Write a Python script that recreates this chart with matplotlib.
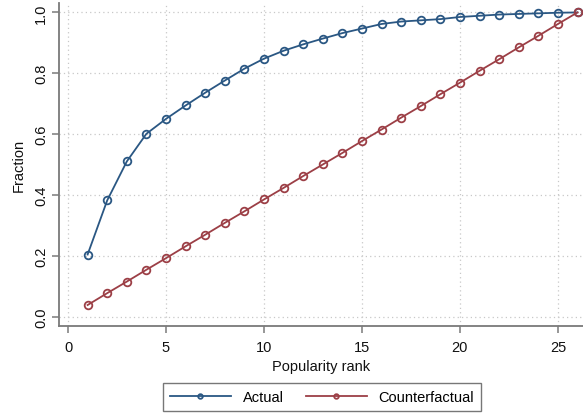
import matplotlib
matplotlib.use("Agg")
import matplotlib.pyplot as plt

rank = list(range(1, 27))
actual = [0.204, 0.382, 0.510, 0.601, 0.650, 0.694, 0.736, 0.776, 0.815, 0.848,
          0.874, 0.895, 0.914, 0.932, 0.947, 0.962, 0.970, 0.974, 0.978, 0.985,
          0.989, 0.993, 0.995, 0.997, 0.999, 1.000]
counterfactual = [0.038, 0.077, 0.115, 0.154, 0.192, 0.231, 0.269, 0.308, 0.346, 0.385,
                  0.423, 0.462, 0.500, 0.538, 0.577, 0.615, 0.654, 0.692, 0.731, 0.769,
                  0.808, 0.846, 0.885, 0.923, 0.962, 1.000]
xticks = [0, 5, 10, 15, 20, 25]
yticks = [0.0, 0.2, 0.4, 0.6, 0.8, 1.0]

plt.rcParams['font.family'] = ['Liberation Sans', 'DejaVu Sans']

W, H = 583, 414
fig = plt.figure(figsize=(W / 100, H / 100), dpi=100)
ax = fig.add_axes([59 / W, 1 - 327 / H, (583 - 59) / W, (327 - 4) / H])

blue = '#2a5783'
red = '#9c3f46'
ax.plot(rank, actual, color=blue, lw=1.3, marker='o', ms=5.5, mfc='none',
        mec=blue, mew=1.3, label='Actual', zorder=3)
ax.plot(rank, counterfactual, color=red, lw=1.3, marker='o', ms=5.5, mfc='none',
        mec=red, mew=1.3, label='Counterfactual', zorder=3)

ax.set_xlim(-0.46, 26.28)
ax.set_ylim(-0.031, 1.031)
ax.set_xticks(xticks)
ax.set_yticks(yticks)
ax.set_yticklabels([f"{v:.1f}" for v in yticks], rotation=90, va='center')
ax.grid(True, color='#c8c8c8', linestyle=(0, (1, 2.5)), lw=0.9)
ax.set_axisbelow(True)

for s in ['top', 'right']:
    ax.spines[s].set_visible(False)
for s in ['left', 'bottom']:
    ax.spines[s].set_color('#7a7a7a')
    ax.spines[s].set_linewidth(1.3)
ax.tick_params(axis='both', colors='#7a7a7a', length=5, width=1.1,
               labelsize=10.5, labelcolor='#111111')
ax.tick_params(axis='y', pad=3)
ax.tick_params(axis='x', pad=5)

ax.set_xlabel('Popularity rank', fontsize=10.5, color='#111111', labelpad=4)
ax.set_ylabel('Fraction', fontsize=10.5, color='#111111', labelpad=6)

leg = fig.legend(loc='center', bbox_to_anchor=(322 / W, 1 - 398 / H), ncol=2,
                 frameon=True, fancybox=False, fontsize=10.5, markerscale=0.6,
                 handlelength=4.2, columnspacing=1.5, borderpad=0.5,
                 handletextpad=0.8)
leg.get_frame().set_edgecolor('#555555')
leg.get_frame().set_linewidth(1.0)

fig.savefig('out.png', dpi=100)
